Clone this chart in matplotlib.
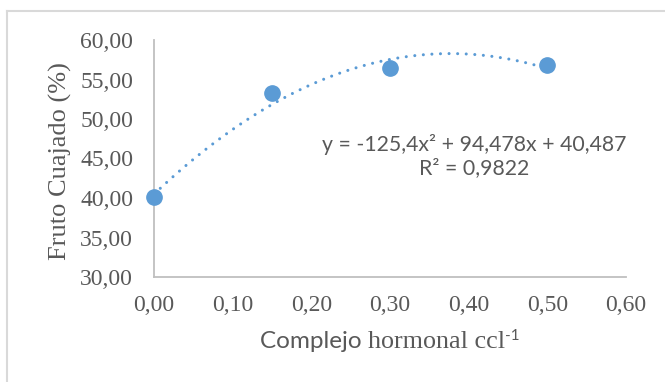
import numpy as np
import matplotlib
matplotlib.use("Agg")
import matplotlib.pyplot as plt
from matplotlib.lines import Line2D

# datos
dosis = [0.00, 0.15, 0.30, 0.50]
fruto_cuajado = [40.1, 53.3, 56.4, 56.8]
coef = [-125.4, 94.478, 40.487]  # línea de tendencia polinómica (Excel)
ecuacion = "y = -125,4x² + 94,478x + 40,487\nR² = 0,9822"
xticks = [0.0, 0.1, 0.2, 0.3, 0.4, 0.5, 0.6]
yticks = [30, 35, 40, 45, 50, 55, 60]

AZUL = "#5B9BD5"
GRIS_TXT = "#595959"
SERIF = "Liberation Serif"
SANS = "Lato"

fig = plt.figure(figsize=(6.65, 3.82), dpi=100)
W, H = 665, 382
ax = fig.add_axes([154 / W, 1 - 277 / H, (626 - 154) / W, (277 - 40) / H])

# tendencia (de la primera a la última x)
xs = np.linspace(min(dosis), max(dosis), 200)
ax.plot(xs, np.polyval(coef, xs), color=AZUL, lw=2.2,
        linestyle=(0, (0.01, 2.8)), dash_capstyle="round", zorder=2)
ax.plot(dosis, fruto_cuajado, "o", color=AZUL, ms=11, mec=AZUL, zorder=3,
        clip_on=False)

ax.set_xlim(0, 0.6)
ax.set_ylim(30, 60)
ax.set_xticks(xticks)
ax.set_yticks(yticks)
ax.set_xticklabels([f"{v:.2f}".replace(".", ",") for v in xticks])
ax.set_yticklabels([f"{v:.2f}".replace(".", ",") for v in yticks])
ax.tick_params(length=0, labelsize=17, labelcolor=GRIS_TXT,
               labelfontfamily=SERIF)
ax.tick_params(axis="y", pad=15)
ax.tick_params(axis="x", pad=13)
for s in ("top", "right"):
    ax.spines[s].set_visible(False)
for s in ("left", "bottom"):
    ax.spines[s].set_color("#BFBFBF")
    ax.spines[s].set_linewidth(1.3)

# marco exterior (solo se ven arriba e izquierda)
fig.add_artist(Line2D([7 / W, 7 / W], [0, 1 - 10.5 / H], transform=fig.transFigure,
                      color="#D9D9D9", lw=1.5))
fig.add_artist(Line2D([7 / W, 1], [1 - 10.5 / H, 1 - 10.5 / H], transform=fig.transFigure,
                      color="#D9D9D9", lw=1.5))

fig.text(60 / W, 1 - 161 / H, "Fruto Cuajado (%)", rotation=90, ha="center",
         va="center", family=SERIF, fontsize=19, color=GRIS_TXT)

fig.text(474 / W, 1 - 156 / H, ecuacion, ha="center", va="center",
         multialignment="center", family=SANS, fontsize=15.3, color=GRIS_TXT,
         linespacing=1.2)

# etiqueta x con fuentes mezcladas
partes = [("Complejo ", SANS, 17.5, 0), ("hormonal ccl", SERIF, 18.8, 0),
          ("-1", SANS, 11, 8)]
renderer = fig.canvas.get_renderer()
textos = []
base_y = 1 - 348 / H
for txt, fam, fs, dy in partes:
    t = fig.text(0, base_y + dy / H, txt, family=fam, fontsize=fs,
                 color=GRIS_TXT, ha="left", va="baseline")
    textos.append(t)
anchos = [t.get_window_extent(renderer).width for t in textos]
x0 = 390 - sum(anchos) / 2
for t, w in zip(textos, anchos):
    t.set_x(x0 / W)
    x0 += w

fig.savefig("out.png", dpi=100, facecolor="white")
